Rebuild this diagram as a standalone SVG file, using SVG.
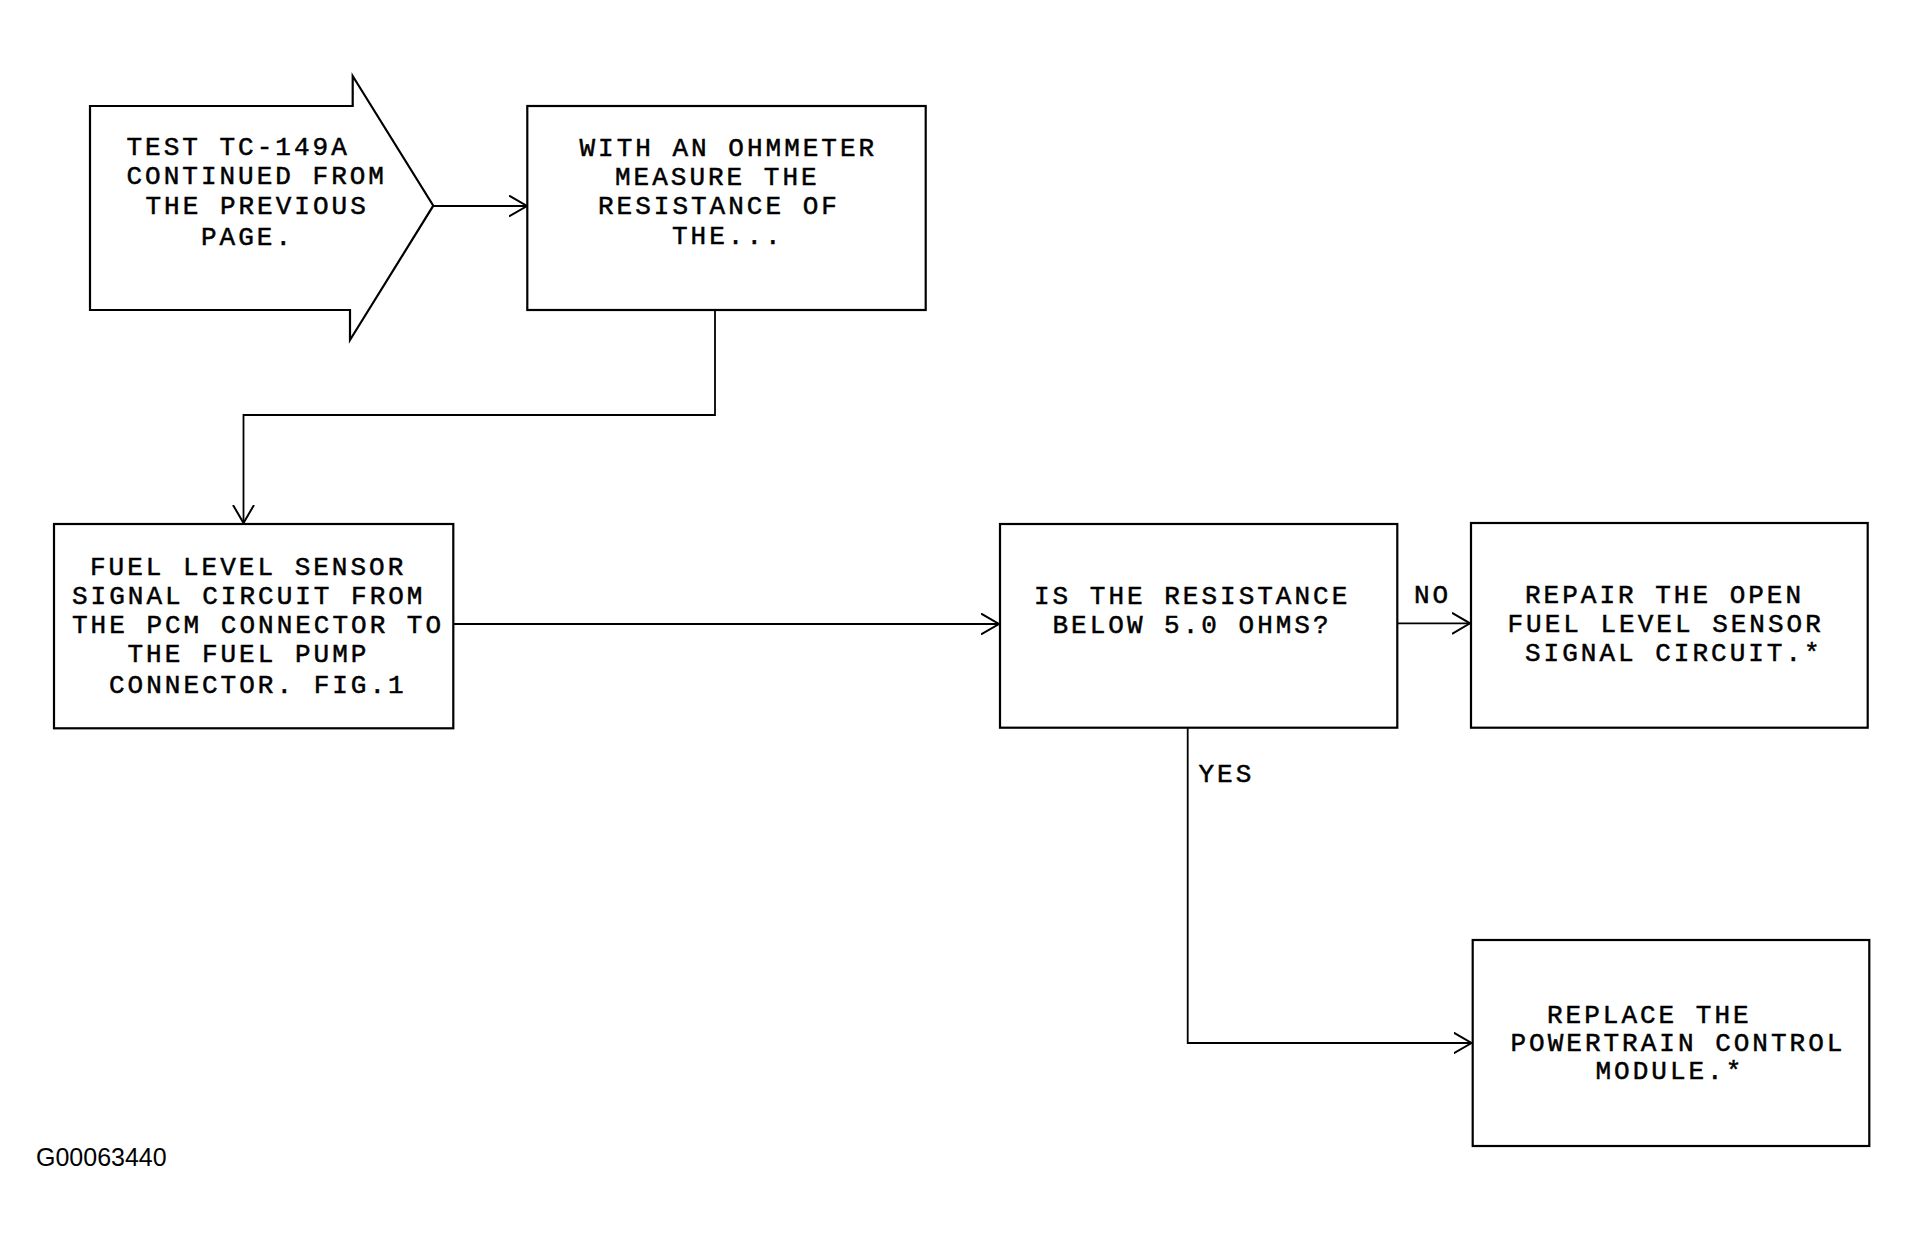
<svg xmlns="http://www.w3.org/2000/svg" width="1908" height="1242" viewBox="0 0 1908 1242">
<style>
.box{fill:#fff;stroke:#000;stroke-width:2.2}
.t{font-family:"Liberation Mono","DejaVu Sans Mono",monospace;font-size:26px;letter-spacing:3px;fill:#000;stroke:#000;stroke-width:0.5}
.lbl{font-family:"Liberation Mono","DejaVu Sans Mono",monospace;font-size:26px;letter-spacing:3px;fill:#000;stroke:#000;stroke-width:0.5}
.con{fill:none;stroke:#000;stroke-width:1.8}
.code{font-family:"Liberation Sans",Arial,sans-serif;font-size:25px;fill:#000}
</style>
<defs>
<marker id="arr" markerUnits="userSpaceOnUse" markerWidth="20" markerHeight="24" refX="18" refY="11" orient="auto">
<path d="M0,0.5 L18,11 L0,21.5" fill="none" stroke="#000" stroke-width="2"/>
</marker>
</defs>
<rect width="1908" height="1242" fill="#fff"/>
<g id="connectors">
<path class="con" d="M433.3,206 H527" marker-end="url(#arr)"/>
<path class="con" d="M715,310 V415 H243.5 V523" marker-end="url(#arr)"/>
<path class="con" d="M453.3,624 H999" marker-end="url(#arr)"/>
<path class="con" d="M1397.3,623.3 H1470" marker-end="url(#arr)"/>
<path class="con" d="M1187.7,727.7 V1043 H1471.5" marker-end="url(#arr)"/>
<text class="lbl" x="1414" y="603.3">NO</text>
<text class="lbl" x="1198.5" y="781.7">YES</text>
</g>
<g id="start">
<polygon class="box" points="90,106 352.7,106 352.7,76 433.3,205.7 350,340 350,310 90,310"/>
<text class="t" x="126.5" y="155">TEST TC-149A</text>
<text class="t" x="126.5" y="184">CONTINUED FROM</text>
<text class="t" x="145.5" y="214">THE PREVIOUS</text>
<text class="t" x="201" y="245">PAGE.</text>
</g>
<g id="measure">
<rect class="box" x="527.3" y="106" width="398.4" height="204"/>
<text class="t" x="579.5" y="156">WITH AN OHMMETER</text>
<text class="t" x="615" y="185">MEASURE THE</text>
<text class="t" x="598" y="214.3">RESISTANCE OF</text>
<text class="t" x="672" y="244.3">THE...</text>
</g>
<g id="circuit">
<rect class="box" x="54" y="524" width="399.3" height="204.3"/>
<text class="t" x="90" y="574.5">FUEL LEVEL SENSOR</text>
<text class="t" x="72" y="603.8">SIGNAL CIRCUIT FROM</text>
<text class="t" x="72" y="633">THE PCM CONNECTOR TO</text>
<text class="t" x="127.5" y="662">THE FUEL PUMP</text>
<text class="t" x="109" y="693">CONNECTOR. FIG.1</text>
</g>
<g id="question">
<rect class="box" x="1000" y="524" width="397.3" height="203.7"/>
<text class="t" x="1034" y="604">IS THE RESISTANCE</text>
<text class="t" x="1052.5" y="633.3">BELOW 5.0 OHMS?</text>
</g>
<g id="repair">
<rect class="box" x="1471" y="523" width="396.7" height="204.7"/>
<text class="t" x="1525" y="603.3">REPAIR THE OPEN</text>
<text class="t" x="1507.5" y="632.3">FUEL LEVEL SENSOR</text>
<text class="t" x="1525" y="661">SIGNAL CIRCUIT.*</text>
</g>
<g id="replace">
<rect class="box" x="1472.7" y="940" width="396.6" height="206"/>
<text class="t" x="1547" y="1022.7">REPLACE THE</text>
<text class="t" x="1510.5" y="1050.7">POWERTRAIN CONTROL</text>
<text class="t" x="1595.5" y="1079.3">MODULE.*</text>
</g>
<text class="code" x="36" y="1165.7">G00063440</text>
</svg>
